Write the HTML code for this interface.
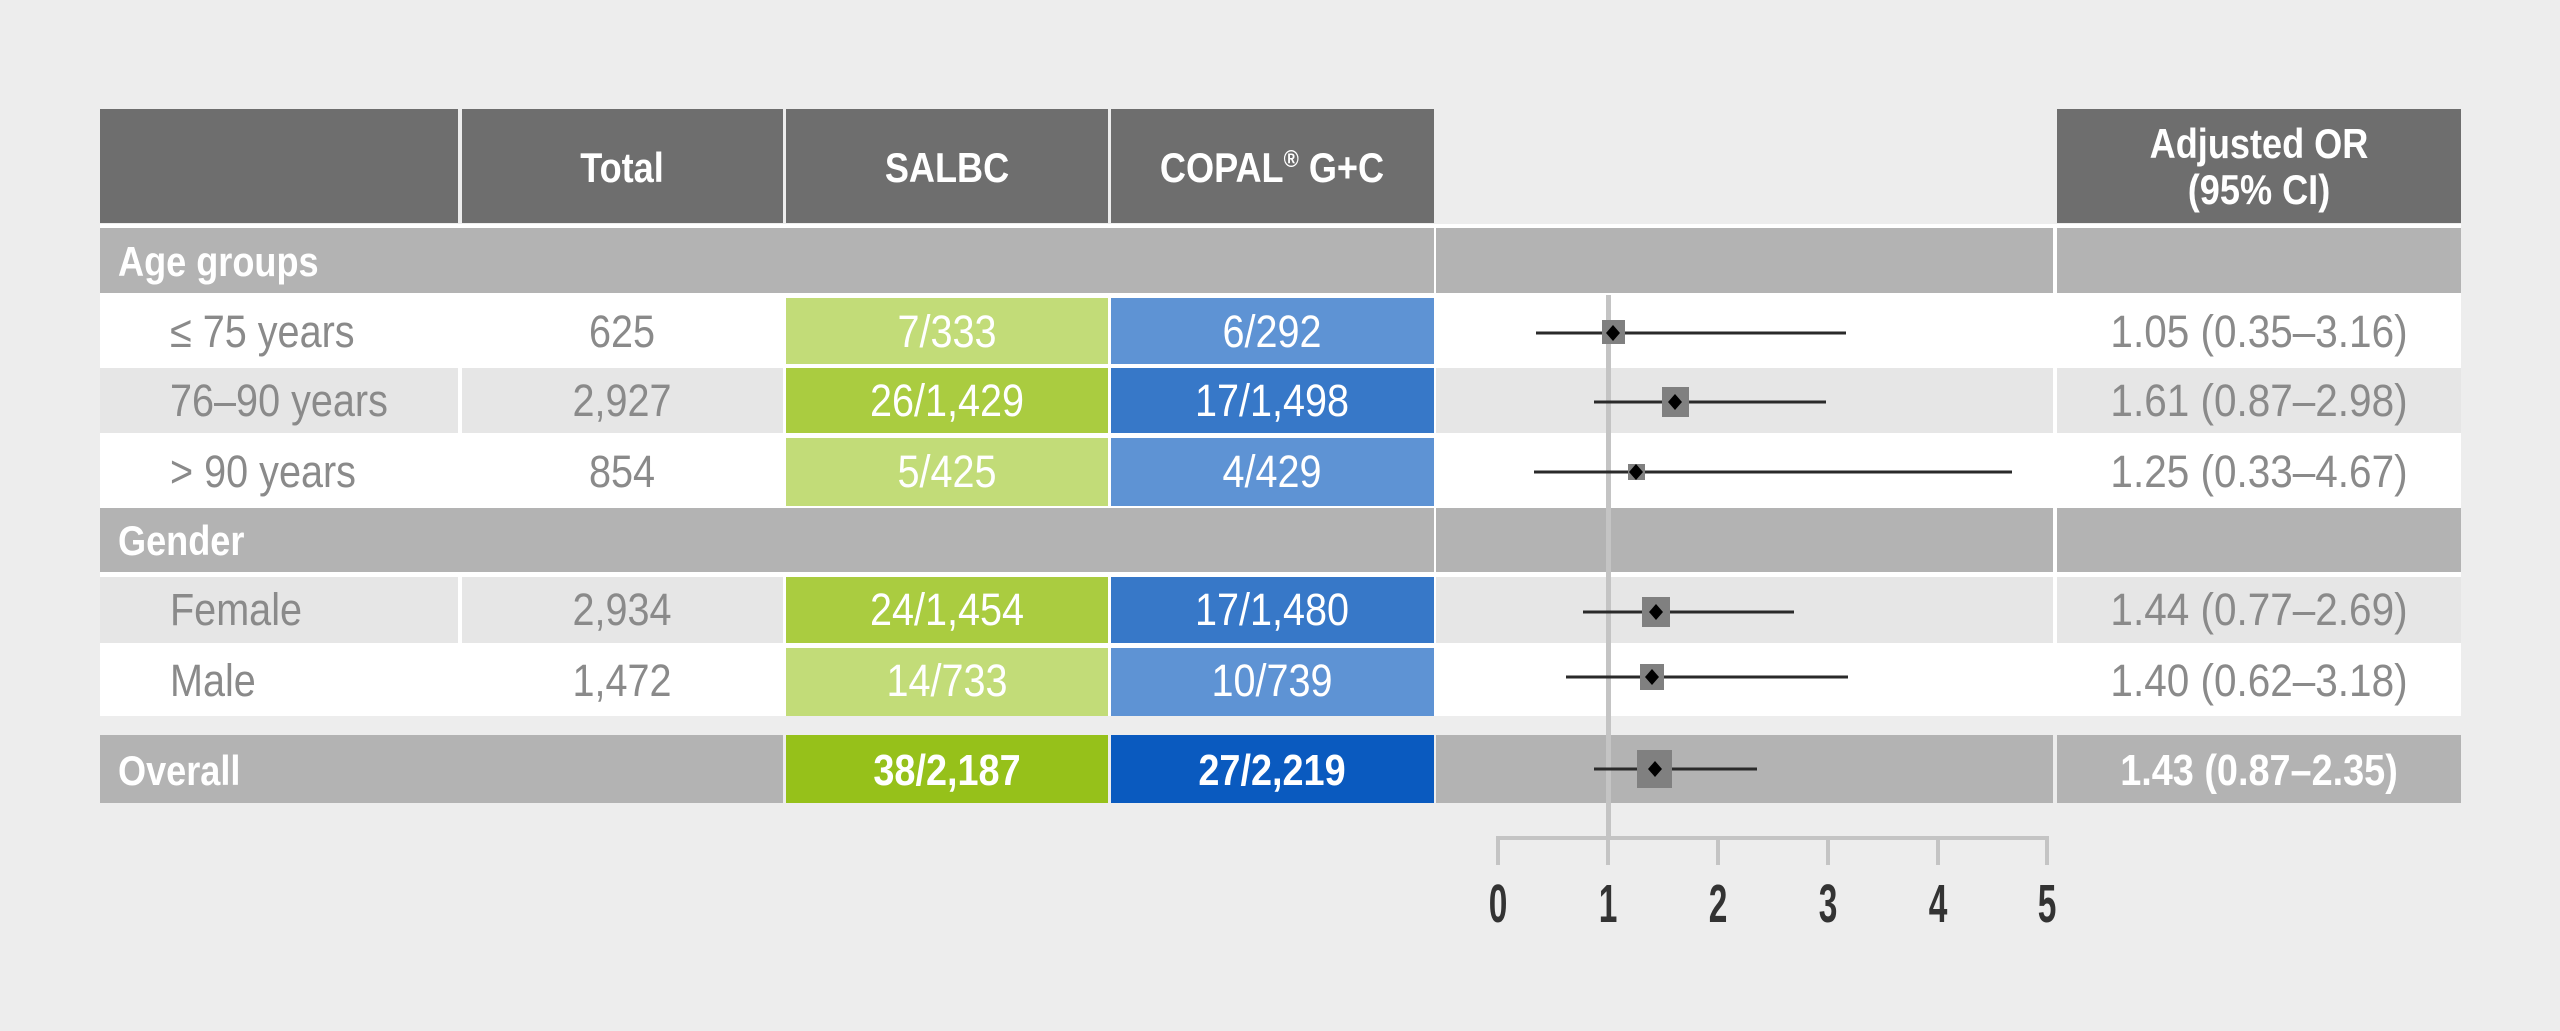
<!DOCTYPE html>
<html><head><meta charset="utf-8"><style>
html,body{margin:0;padding:0;background:#ededed;}
svg{display:block}
text{font-family:"Liberation Sans Narrow","Liberation Sans",sans-serif;}
</style></head><body>
<svg width="2560" height="1031" viewBox="0 0 2560 1031" xmlns="http://www.w3.org/2000/svg">
<rect width="2560" height="1031" fill="#ededed"/>
<rect x="100" y="109" width="358" height="114" fill="#6e6e6e"/>
<rect x="462" y="109" width="321" height="114" fill="#6e6e6e"/>
<rect x="786" y="109" width="322" height="114" fill="#6e6e6e"/>
<rect x="1111" y="109" width="323" height="114" fill="#6e6e6e"/>
<rect x="2057" y="109" width="404" height="114" fill="#6e6e6e"/>
<g fill="#fff" font-weight="bold" font-size="42" text-anchor="middle">
<text transform="translate(622,182) scale(.86,1)">Total</text>
<text transform="translate(947,182) scale(.86,1)">SALBC</text>
<text transform="translate(1272,182) scale(.86,1)">COPAL<tspan font-size="24" dy="-15">®</tspan><tspan dy="15"> G+C</tspan></text>
<text transform="translate(2259,158) scale(.86,1)">Adjusted OR</text>
<text transform="translate(2259,204) scale(.86,1)">(95% CI)</text>
</g>
<rect x="100" y="224" width="2361" height="492" fill="#fff"/>
<rect x="100" y="228" width="1334" height="65" fill="#b3b3b3"/>
<rect x="1436" y="228" width="617" height="65" fill="#b3b3b3"/>
<rect x="2057" y="228" width="404" height="65" fill="#b3b3b3"/>
<rect x="100" y="508" width="1334" height="64" fill="#b3b3b3"/>
<rect x="1436" y="508" width="617" height="64" fill="#b3b3b3"/>
<rect x="2057" y="508" width="404" height="64" fill="#b3b3b3"/>
<g fill="#e6e6e6">
<rect x="100" y="368" width="358" height="65"/><rect x="462" y="368" width="321" height="65"/>
<rect x="1436" y="368" width="617" height="65"/><rect x="2057" y="368" width="404" height="65"/>
<rect x="100" y="577" width="358" height="66"/><rect x="462" y="577" width="321" height="66"/>
<rect x="1436" y="577" width="617" height="66"/><rect x="2057" y="577" width="404" height="66"/>
</g>
<rect x="786" y="298" width="322" height="66" fill="#c2dc78"/><rect x="1111" y="298" width="323" height="66" fill="#5e93d4"/>
<rect x="786" y="368" width="322" height="65" fill="#aacc40"/><rect x="1111" y="368" width="323" height="65" fill="#3778c8"/>
<rect x="786" y="438" width="322" height="68" fill="#c2dc78"/><rect x="1111" y="438" width="323" height="68" fill="#5e93d4"/>
<rect x="786" y="577" width="322" height="66" fill="#aacc40"/><rect x="1111" y="577" width="323" height="66" fill="#3778c8"/>
<rect x="786" y="648" width="322" height="68" fill="#c2dc78"/><rect x="1111" y="648" width="323" height="68" fill="#5e93d4"/>
<rect x="100" y="735" width="683" height="68" fill="#b3b3b3"/>
<rect x="786" y="735" width="322" height="68" fill="#96c11a"/>
<rect x="1111" y="735" width="323" height="68" fill="#0a5abf"/>
<rect x="1436" y="735" width="617" height="68" fill="#b3b3b3"/>
<rect x="2057" y="735" width="404" height="68" fill="#b3b3b3"/>
<g fill="#fff" font-weight="bold" font-size="42">
<text transform="translate(118,276) scale(.86,1)">Age groups</text>
<text transform="translate(118,555) scale(.86,1)">Gender</text>
<text transform="translate(118,785) scale(.86,1)">Overall</text>
</g>
<g fill="#8a8a8a" font-size="45">
<text transform="translate(170,347) scale(.88,1)">≤ 75 years</text>
<text transform="translate(170,416) scale(.88,1)">76–90 years</text>
<text transform="translate(170,487) scale(.88,1)">&gt; 90 years</text>
<text transform="translate(170,625) scale(.88,1)">Female</text>
<text transform="translate(170,696) scale(.88,1)">Male</text>
</g>
<g fill="#8a8a8a" font-size="45" text-anchor="middle">
<text transform="translate(622,347) scale(.88,1)">625</text>
<text transform="translate(622,416) scale(.88,1)">2,927</text>
<text transform="translate(622,487) scale(.88,1)">854</text>
<text transform="translate(622,625) scale(.88,1)">2,934</text>
<text transform="translate(622,696) scale(.88,1)">1,472</text>
</g>
<g fill="#fff" font-size="45" text-anchor="middle">
<text transform="translate(947,347) scale(.88,1)">7/333</text><text transform="translate(1272,347) scale(.88,1)">6/292</text>
<text transform="translate(947,416) scale(.88,1)">26/1,429</text><text transform="translate(1272,416) scale(.88,1)">17/1,498</text>
<text transform="translate(947,487) scale(.88,1)">5/425</text><text transform="translate(1272,487) scale(.88,1)">4/429</text>
<text transform="translate(947,625) scale(.88,1)">24/1,454</text><text transform="translate(1272,625) scale(.88,1)">17/1,480</text>
<text transform="translate(947,696) scale(.88,1)">14/733</text><text transform="translate(1272,696) scale(.88,1)">10/739</text>
</g>
<g fill="#fff" font-size="44" font-weight="bold" text-anchor="middle">
<text transform="translate(947,785) scale(.86,1)">38/2,187</text><text transform="translate(1272,785) scale(.86,1)">27/2,219</text>
<text transform="translate(2259,785) scale(.86,1)">1.43 (0.87–2.35)</text>
</g>
<g fill="#8a8a8a" font-size="45" text-anchor="middle">
<text transform="translate(2259,347) scale(.9,1)">1.05 (0.35–3.16)</text>
<text transform="translate(2259,416) scale(.9,1)">1.61 (0.87–2.98)</text>
<text transform="translate(2259,487) scale(.9,1)">1.25 (0.33–4.67)</text>
<text transform="translate(2259,625) scale(.9,1)">1.44 (0.77–2.69)</text>
<text transform="translate(2259,696) scale(.9,1)">1.40 (0.62–3.18)</text>
</g>
<rect x="1606" y="295" width="5" height="543" fill="#c4c4c4"/>
<g fill="none" stroke="#c4c4c4" stroke-width="4">
<path d="M1498 865 V838 H2047 V865"/>
<path d="M1608 838V865M1718 838V865M1828 838V865M1938 838V865"/>
</g>
<g fill="#333" font-size="54" font-weight="bold" text-anchor="middle">
<text transform="translate(1498,922) scale(.62,1)">0</text><text transform="translate(1608,922) scale(.62,1)">1</text><text transform="translate(1718,922) scale(.62,1)">2</text>
<text transform="translate(1828,922) scale(.62,1)">3</text><text transform="translate(1938,922) scale(.62,1)">4</text><text transform="translate(2047,922) scale(.62,1)">5</text>
</g>
<g stroke="#2a2a2a" stroke-width="3">
<line x1="1536" y1="333" x2="1846" y2="333"/>
<line x1="1594" y1="402" x2="1826" y2="402"/>
<line x1="1534" y1="472" x2="2012" y2="472"/>
<line x1="1583" y1="612" x2="1794" y2="612"/>
<line x1="1566" y1="677" x2="1848" y2="677"/>
<line x1="1594" y1="769" x2="1757" y2="769"/>
</g>
<g fill="#808080">
<rect x="1602" y="320" width="23" height="24"/>
<rect x="1662" y="387" width="27" height="30"/>
<rect x="1628" y="464" width="17" height="16"/>
<rect x="1642" y="597" width="28" height="30"/>
<rect x="1640" y="664" width="24" height="26"/>
<rect x="1637" y="750" width="35" height="38"/>
</g>
<g fill="#000">
<path d="M1613 325l7 8-7 8-7-8z"/>
<path d="M1675 394l7 8-7 8-7-8z"/>
<path d="M1636 464l7 8-7 8-7-8z"/>
<path d="M1656 604l7 8-7 8-7-8z"/>
<path d="M1652 669l7 8-7 8-7-8z"/>
<path d="M1655 761l7 8-7 8-7-8z"/>
</g>
</svg>
</body></html>
